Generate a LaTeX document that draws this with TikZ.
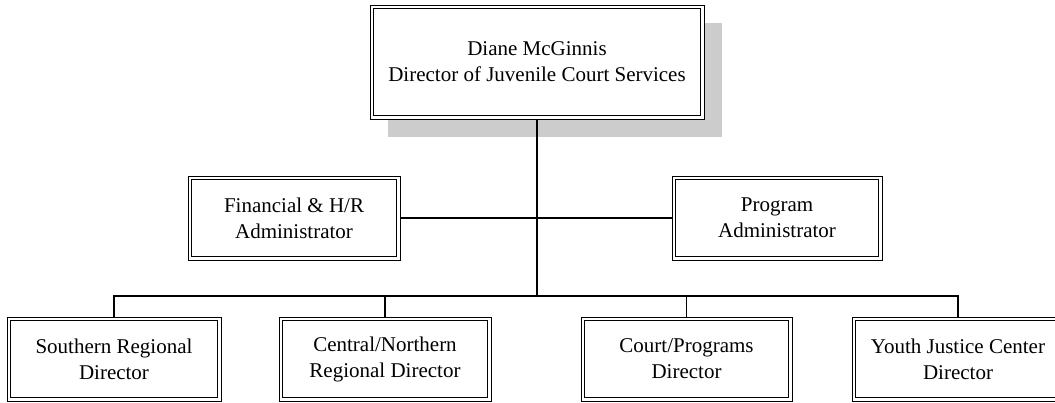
\documentclass[tikz,border=0pt]{standalone}
\usepackage{fontspec}
\usepackage{tikz}
\usetikzlibrary{shadows}
\setmainfont{Liberation Serif}
\definecolor{shadowgray}{RGB}{204,204,204}

\begin{document}
\begin{tikzpicture}[x=1pt, y=1pt,
  box/.style={draw, line width=0.8pt, fill=white, inner sep=0pt, align=center,
    minimum height=84pt, font=\fontsize{21}{26}\selectfont,
    path picture={\draw[line width=1.8pt]
      ([shift={(3.5pt,3.5pt)}]path picture bounding box.south west) rectangle
      ([shift={(-3.5pt,-3.5pt)}]path picture bounding box.north east);}},
  link/.style={line width=1.1pt}]
\useasboundingbox (0,0) rectangle (1055,402);
\node[box, minimum width=334pt, minimum height=114pt,
  general shadow={fill=shadowgray, shadow xshift=18pt, shadow yshift=-18pt}]
  (director) at (537,340) {Diane McGinnis\\Director of Juvenile Court Services};
\node[box, minimum width=212pt] (finance) at (294,184) {Financial \& H/R\\Administrator};
\node[box, minimum width=210pt] (program) at (777,184) {Program\\Administrator};
\node[box, minimum width=214pt] (southern) at (114,43) {Southern Regional\\Director};
\node[box, minimum width=212pt] (central) at (385,43) {Central/Northern\\Regional Director};
\node[box, minimum width=211pt] (court) at (686.5,43) {Court/Programs\\Director};
\node[box, minimum width=212pt] (youth) at (958,43) {Youth Justice Center\\Director};
\coordinate (bus) at (537,106);
\draw[line width=1.8pt] (director.south) -- (bus);
\draw[link] (finance.east) -- (program.west);
\draw[link] (southern.north) -- (southern.north |- bus) -| (youth.north);
\draw[link] (central.north) -- (central.north |- bus);
\draw[link] (court.north) -- (court.north |- bus);
\end{tikzpicture}
\end{document}
